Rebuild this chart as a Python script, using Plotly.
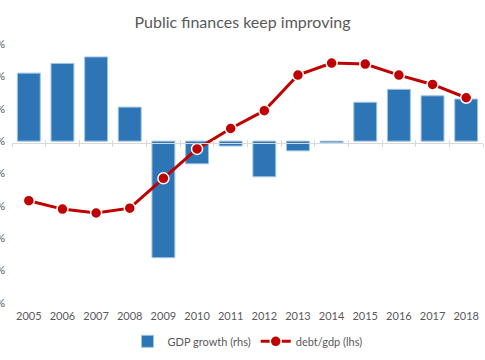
import plotly.graph_objects as go

years = [2005, 2006, 2007, 2008, 2009, 2010, 2011, 2012, 2013, 2014, 2015, 2016, 2017, 2018]
gdp_growth = [4.2, 4.8, 5.2, 2.1, -7.2, -1.4, -0.3, -2.2, -0.6, -0.1, 2.4, 3.2, 2.8, 2.6]
debt_gdp = [41.6, 39.0, 37.8, 39.3, 48.5, 57.6, 63.9, 69.4, 80.4, 84.1, 83.8, 80.4, 77.5, 73.4]
debt_ticks = [10, 20, 30, 40, 50, 60, 70, 80, 90]
debt_tick_labels = ["10%", "20%", "30%", "40%", "50%", "60%", "70%", "80%", "90%"]

TXT = "#595959"
FONT = "Lato"

fig = go.Figure()
fig.add_trace(go.Bar(
    x=years, y=gdp_growth, name="GDP growth (rhs)",
    marker=dict(color="#2E75B6", line=dict(color="#9DC3E6", width=1)),
    xaxis="x", yaxis="y",
))
fig.add_trace(go.Scatter(
    x=years, y=debt_gdp, name="debt/gdp (lhs)", mode="lines+markers",
    line=dict(color="#C00000", width=3),
    marker=dict(color="#C00000", size=11, line=dict(color="white", width=1.5)),
    xaxis="x", yaxis="y2",
))
# dummy traces so the crossing axis lines are drawn
fig.add_trace(go.Scatter(x=[None], y=[None], xaxis="x2", yaxis="y", showlegend=False, hoverinfo="skip"))
fig.add_trace(go.Scatter(x=[None], y=[None], xaxis="x3", yaxis="y", showlegend=False, hoverinfo="skip"))

xr = [2004.5, 2018.5]
zero_pos = (303 - 142.7) / 259
fig.update_layout(
    width=485, height=360,
    margin=dict(l=12, r=2, t=44, b=57),
    paper_bgcolor="white", plot_bgcolor="white",
    font=dict(family=FONT, color=TXT, size=11),
    title=dict(text="Public finances keep improving", x=0.5, xanchor="center",
               y=1 - 22 / 360, yanchor="middle",
               font=dict(family=FONT, size=16, color=TXT)),
    bargap=0.32,
    showlegend=True,
    legend=dict(orientation="h", x=0.5, xanchor="center", y=-0.092, yanchor="top",
                font=dict(family=FONT, size=11, color=TXT)),
    xaxis=dict(range=xr, tickvals=years, showline=False, showgrid=False, zeroline=False,
               ticks="", ticklabelstandoff=5, tickfont=dict(size=11, color=TXT), automargin=False),
    xaxis2=dict(range=xr, overlaying="x", anchor="free", position=zero_pos,
                showline=True, linecolor="#D9D9D9", linewidth=1, ticks="outside", ticklen=3,
                tickcolor="#D9D9D9", tick0=2004.5, dtick=1, showticklabels=False,
                showgrid=False, zeroline=False),
    xaxis3=dict(range=xr, overlaying="x", anchor="free", position=zero_pos,
                showline=False, ticks="inside", ticklen=3,
                tickcolor="#D9D9D9", tick0=2004.5, dtick=1, showticklabels=False,
                showgrid=False, zeroline=False),
    yaxis=dict(range=[-10, 6], side="right", showticklabels=False, showgrid=False,
               zeroline=False, showline=False, automargin=False),
    yaxis2=dict(range=[10, 90], overlaying="y", side="left", tickvals=debt_ticks,
                ticktext=debt_tick_labels, showgrid=False, zeroline=False, showline=False,
                ticks="", ticklabelstandoff=6, tickfont=dict(size=11, color=TXT), automargin=False),
)

fig.write_html("out.html", config={"displayModeBar": False},
               post_script="document.body.style.margin='0';document.body.style.overflow='hidden';")
